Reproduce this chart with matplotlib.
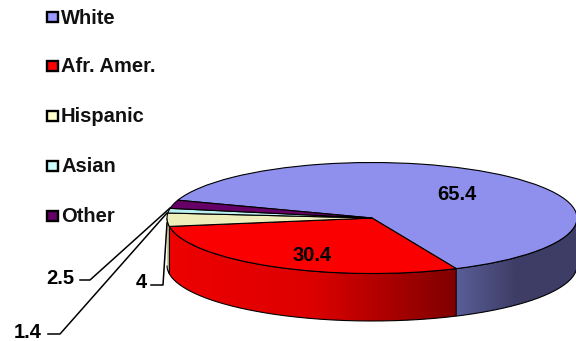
import numpy as np
import matplotlib
matplotlib.use("Agg")
import matplotlib.pyplot as plt
from matplotlib.colors import LinearSegmentedColormap
from matplotlib.patches import PathPatch, Rectangle
from matplotlib.path import Path
from matplotlib.transforms import Affine2D

W, H = 576, 341

categories = ["White", "Afr. Amer.", "Hispanic", "Asian", "Other"]
values = [65.4, 30.4, 4, 1.4, 2.5]
top_colors = ["#8F8FEE", "#FB0000", "#EEEEBB", "#BBEEEE", "#660066"]
swatch_colors = ["#9999FF", "#FF0000", "#FFFFCC", "#CCFFFF", "#660066"]
side_gradients = {
    "White": ["#5A5E98", "#3D3D66", "#3D3D66"],
    "Afr. Amer.": ["#EE0000", "#DD0000", "#800000"],
    "Hispanic": ["#CFCFA0", "#CFCFA0"],
}

CX, CY, RX, RY, DEPTH = 372, 123, 205, 55.5, 47.5
START_ANGLE = 161.3
FONT_SIZE = 14.5

plt.rcParams["font.family"] = ["Liberation Sans", "DejaVu Sans"]
fig = plt.figure(figsize=(W / 100, H / 100), dpi=100)
ax = fig.add_axes([0, 0, 1, 1])


def rim(a0, a1, n=120):
    t = np.radians(np.linspace(a0, a1, n))
    return CX + RX * np.cos(t), CY + RY * np.sin(t)


# Top face: a true pie squashed into an ellipse around the centre
squash = Affine2D().translate(-CX, -CY).scale(1, RY / RX).translate(CX, CY)
wedges, _ = ax.pie(values, colors=top_colors, startangle=START_ANGLE, counterclock=False,
                   center=(CX, CY), radius=RX,
                   wedgeprops=dict(edgecolor="black", linewidth=0.8, zorder=5), frame=True)
for w in wedges:
    w.set_transform(squash + ax.transData)

# Extruded rim, shaded left to right inside each slice.
# Only the front half of the rim, angles -180..0, can be seen.
angles = START_ANGLE - np.cumsum([0] + values) / sum(values) * 360
for name, a0, a1 in zip(categories, angles[:-1], angles[1:]):
    if name not in side_gradients:
        continue
    lo, hi = max(a1, -180), min(a0, 0)
    if hi <= lo:
        continue
    x, y = rim(lo, hi)
    xs = np.r_[x, x[::-1]]
    ys = np.r_[y, y[::-1] - DEPTH]
    outline = Path(np.c_[xs, ys])
    cmap = LinearSegmentedColormap.from_list(name, side_gradients[name])
    im = ax.imshow(np.linspace(0, 1, 256)[None, :], cmap=cmap, aspect="auto", zorder=2,
                   extent=(xs.min(), xs.max(), ys.min(), ys.max()), origin="lower")
    patch = PathPatch(outline, transform=ax.transData, fc="none", ec="none")
    ax.add_patch(patch)
    im.set_clip_path(patch)
    ax.add_patch(PathPatch(outline, fc="none", ec="black", lw=0.8, zorder=3))

ax.set_aspect("auto")
ax.set_xlim(0, W)
ax.set_ylim(0, H)
ax.axis("off")

# Legend
legend_y = [17, 66, 116, 166, 216]
for name, col, ly in zip(categories, swatch_colors, legend_y):
    ax.add_patch(Rectangle((47.2, H - ly - 5.2), 10.4, 10.4, fc=col, ec="black", lw=1.7, zorder=6))
    ax.text(61, H - ly + 1, name, fontsize=FONT_SIZE, fontweight="bold", va="center_baseline",
            ha="left", color="#111111", zorder=6)

# Value labels placed on the slices
ax.text(457, H - 192.5, "65.4", fontsize=FONT_SIZE, fontweight="bold", ha="center",
        va="center_baseline", zorder=6)
ax.text(312, H - 253.5, "30.4", fontsize=FONT_SIZE, fontweight="bold", ha="center",
        va="center_baseline", zorder=6)

# Labels for the thin slices, pulled out with leader lines
callouts = [
    ("2.5", (60, 276.5), [(80, 280), (90, 280), (170, 208)]),
    ("1.4", (28, 330), [(48, 334), (60, 334), (167, 213)]),
    ("4", (141, 281), [(151, 285), (163, 285), (167, 223)]),
]
for text, (tx, ty), pts in callouts:
    ax.text(tx, H - ty, text, fontsize=FONT_SIZE, fontweight="bold", ha="center",
            va="center_baseline", zorder=6)
    px, py = zip(*pts)
    ax.plot(px, [H - p for p in py], color="black", lw=1.1, zorder=6)

fig.savefig("out.png", dpi=100)
